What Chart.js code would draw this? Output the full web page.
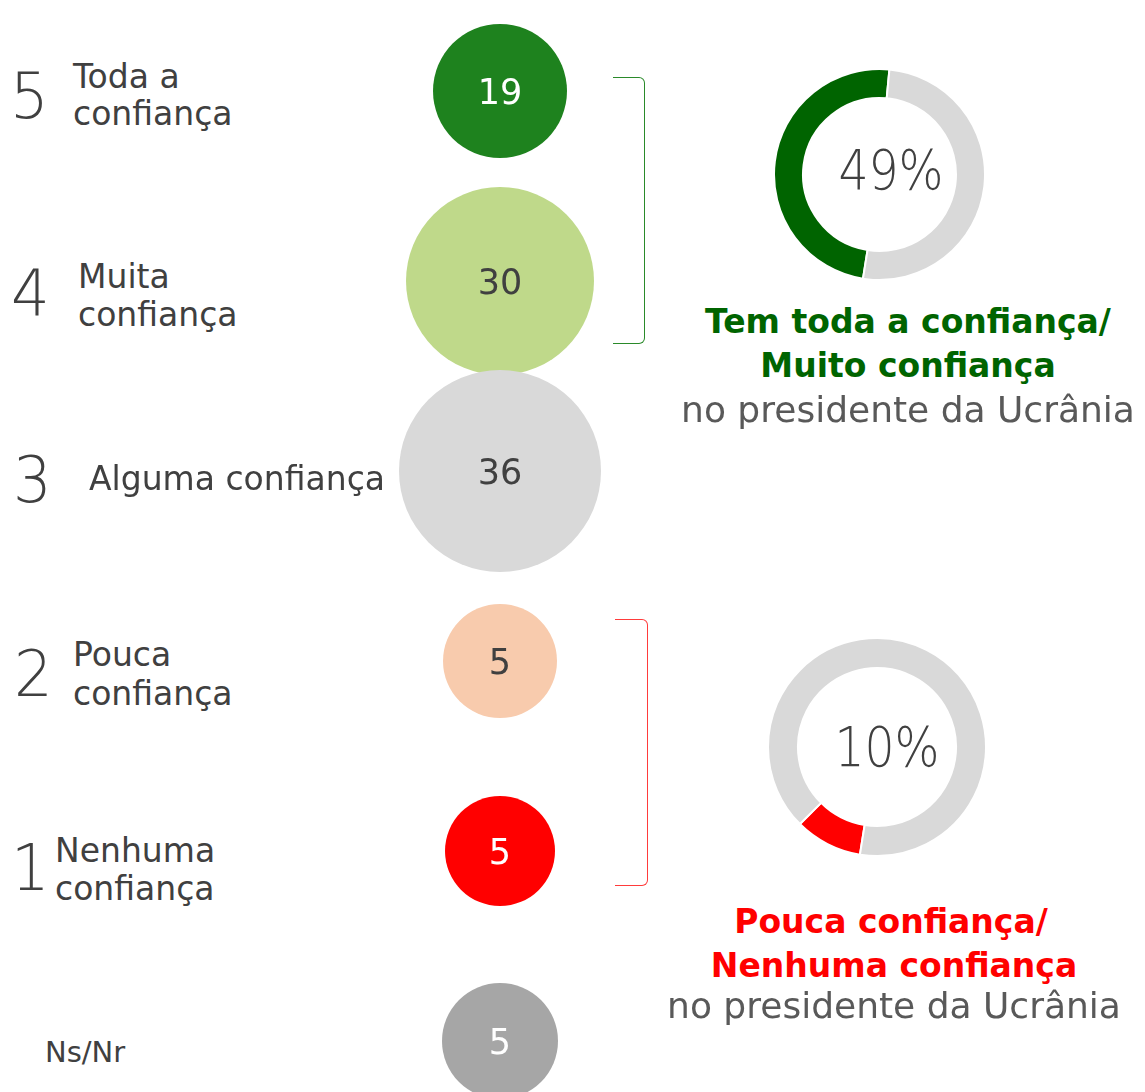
<!DOCTYPE html>
<html>
<head>
<meta charset="utf-8">
<script src="https://cdn.jsdelivr.net/npm/chart.js@4.4.1/dist/chart.umd.min.js"></script>
<style>
  html, body { margin:0; padding:0; background:#fff; }
  body { width:1145px; height:1092px; overflow:hidden; position:relative;
         font-family:"DejaVu Sans", sans-serif; color:#404040; }
  .txt { position:absolute; white-space:nowrap; }
  .wrap { position:absolute; }
  .bracket { position:absolute; box-sizing:border-box; border-left:none; border-radius:0 6px 6px 0; }
</style>
</head>
<body>
<div class="wrap" id="bubbleWrap" style="left:300px; top:-4px; width:400px; height:1140px;"><canvas id="bubbles"></canvas></div>
<div class="wrap" id="d1Wrap" style="left:773px; top:68px; width:213px; height:213px;"><canvas id="donutPos"></canvas></div>
<div class="wrap" id="d2Wrap" style="left:767px; top:637px; width:220px; height:220px;"><canvas id="donutNeg"></canvas></div>
<div class="bracket" style="left:613px; top:77px; width:32px; height:267px; border:1.5px solid #2A8A2A; border-left:none;"></div>
<div class="bracket" style="left:615px; top:619px; width:33px; height:267px; border:1.5px solid #FF3B3B; border-left:none;"></div>

<script>
// ---------------- DATA ----------------
const categoryLines = [["Toda a", "confiança"], ["Muita", "confiança"], ["Alguma confiança"],
                       ["Pouca", "confiança"], ["Nenhuma", "confiança"], ["Ns/Nr"]];
const categories = categoryLines.map(l => l.join(" "));
const scaleCodes = ["5", "4", "3", "2", "1", ""];
const values = [19, 30, 36, 5, 5, 5];

const positiveLabels = ["Tem toda a confiança/ Muito confiança", "Restantes"];
const positiveShare = [49, 51];
const negativeLabels = ["Pouca confiança/ Nenhuma confiança", "Restantes"];
const negativeShare = [10, 90];

// ---------------- STYLE ----------------
const bubbleColors = ["#1E821E", "#BFD98A", "#D9D9D9", "#F8CBAD", "#FF0000", "#A6A6A6"];
const bubbleTextColors = ["#FFFFFF", "#404040", "#404040", "#404040", "#FFFFFF", "#FFFFFF"];
const bubbleRadius = [67, 94, 101, 57, 55, 58];

// text placement helper (DejaVu Sans: baseline at 0.846em with line-height 1)
function place(text, x, baseline, size, opts = {}) {
  const d = document.createElement("div");
  d.className = "txt";
  d.textContent = text;
  d.style.fontSize = size + "px";
  d.style.lineHeight = size + "px";
  d.style.top = (baseline - 0.846 * size) + "px";
  d.style.left = x + "px";
  if (opts.color) d.style.color = opts.color;
  if (opts.weight) d.style.fontWeight = opts.weight;
  let tf = "";
  if (opts.center) tf += "translateX(-50%) ";
  if (opts.sx) tf += "scaleX(" + opts.sx + ")";
  if (tf) { d.style.transform = tf; d.style.transformOrigin = opts.center ? "center" : "left"; }
  document.body.appendChild(d);
  return d;
}

// left category labels
const codePos = [[10, 118], [11, 315], [13, 502], [14, 696], [11, 890]];
const labelPos = [[73, 88, 125], [78, 288, 326], [89, 490], [73, 666, 705], [55, 862, 900], [45, 1063]];
scaleCodes.forEach((c, i) => { if (c) place(c, codePos[i][0], codePos[i][1], 64, { sx: 0.95, weight: 300 }); });
categoryLines.forEach((lines, i) => {
  const p = labelPos[i];
  const size = i === 5 ? 29 : 33;
  lines.forEach((ln, k) => place(ln, p[0], p[1 + k], size));
});

// right texts
place("Tem toda a confiança/", 908, 333, 33, { center: true, weight: "bold", color: "#006400" });
place("Muito confiança", 908, 377, 33, { center: true, weight: "bold", color: "#006400" });
place("no presidente da Ucrânia", 908, 422, 36, { center: true, color: "#595959" });
place("Pouca confiança/", 891, 933, 33, { center: true, weight: "bold", color: "#FF0000" });
place("Nenhuma confiança", 894, 977, 33, { center: true, weight: "bold", color: "#FF0000" });
place("no presidente da Ucrânia", 894, 1018, 36, { center: true, color: "#595959" });

// ---------------- BUBBLES ----------------
const bubbleLabelEls = values.map((v, i) => {
  const d = document.createElement("div");
  d.className = "txt";
  d.textContent = String(v);
  d.style.fontSize = "35px";
  d.style.lineHeight = "35px";
  d.style.color = bubbleTextColors[i];
  d.style.transform = "translate(-50%, -50%)";
  document.body.appendChild(d);
  return d;
});

const bubbleLabelPlugin = {
  id: "bubbleLabels",
  afterRender(chart) {
    const wrap = chart.canvas.parentNode;
    const ox = wrap.offsetLeft, oy = wrap.offsetTop;
    chart.getDatasetMeta(0).data.forEach((el, i) => {
      bubbleLabelEls[i].style.left = (ox + el.x) + "px";
      bubbleLabelEls[i].style.top = (oy + el.y + 1) + "px";
    });
  }
};

new Chart(document.getElementById("bubbles"), {
  type: "bubble",
  data: {
    datasets: [{
      label: "Confiança",
      data: values.map((v, i) => ({ x: 1, y: categories[i], r: bubbleRadius[i], v })),
      backgroundColor: bubbleColors,
      borderWidth: 0,
      clip: false
    }]
  },
  options: {
    responsive: true, maintainAspectRatio: false, animation: false, events: [],
    layout: { padding: 0, autoPadding: false },
    scales: {
      x: { type: "linear", min: 0, max: 2, display: false },
      y: { type: "category", labels: categories, offset: true, display: false }
    },
    plugins: { legend: { display: false }, tooltip: { enabled: false } }
  },
  plugins: [bubbleLabelPlugin]
});

// ---------------- DOUGHNUTS ----------------
function donut(id, labels, data, color) {
  return new Chart(document.getElementById(id), {
    type: "doughnut",
    data: { labels, datasets: [{ data, backgroundColor: [color, "#D9D9D9"], borderColor: "#FFFFFF", borderWidth: 2 }] },
    options: {
      responsive: true, maintainAspectRatio: false, animation: false, events: [],
      rotation: 189, cutout: "72.5%",
      layout: { padding: 0 },
      plugins: { legend: { display: false }, tooltip: { enabled: false } }
    }
  });
}
donut("donutPos", positiveLabels, positiveShare, "#006400");
donut("donutNeg", negativeLabels, negativeShare, "#FF0000");

place(positiveShare[0] + "%", 891, 190, 55, { center: true, sx: 0.86, weight: 300 });
place(negativeShare[0] + "%", 887, 767, 55, { center: true, sx: 0.86, weight: 300 });
</script>
</body>
</html>
